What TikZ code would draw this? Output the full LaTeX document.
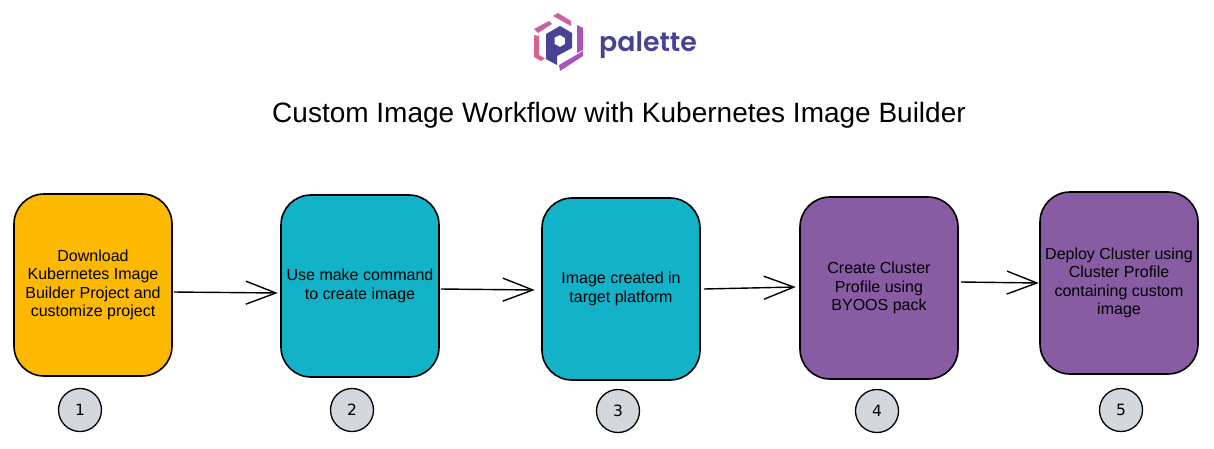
\documentclass[tikz,border=0pt]{standalone}
\usepackage{fontspec}
\setmainfont{Liberation Sans}
\newfontfamily\logofont{Poppins SemiBold}
\newfontfamily\numfont{DejaVu Sans}
\usetikzlibrary{arrows.meta}
\definecolor{cyellow}{HTML}{FDB900}
\definecolor{cteal}{HTML}{12B2C9}
\definecolor{cpurple}{HTML}{875CA3}
\definecolor{cgrey}{HTML}{D3D7DE}
\definecolor{clogo}{HTML}{4A4295}
\definecolor{cpinka}{HTML}{CF5FA0}
\definecolor{cpinkb}{HTML}{D8628F}
\definecolor{cviola}{HTML}{A854B8}
\tikzset{
  x=1pt,y=-1pt,
  stepbox/.style={draw=black,line width=1.6pt,rounded corners=30pt,minimum width=158pt,minimum height=182pt,inner sep=1pt,align=center,font=\fontsize{16}{18.3}\selectfont},
  numdot/.style={circle,draw=black,fill=cgrey,line width=1.3pt,minimum size=43pt,inner sep=0pt,font=\numfont\fontsize{15.5}{16}\selectfont},
  flow/.style={line width=1.4pt,-{Straight Barb[length=30pt,width=23pt,line width=1.4pt]}}
}
\begin{document}
\begin{tikzpicture}
\useasboundingbox (0,0) rectangle (1214,448);
\fill[white] (0,0) rectangle (1214,448);
\fill[cpinka] (534,29) -- (549,21) -- (552,24) -- (538,33) -- cycle;
\fill[cpinka] (553,16) -- (558,13) -- (571,21) -- (571,26) -- cycle;
\fill[cpinkb] (534,35) -- (539,36) -- (539,55) -- (545,58.5) -- (541,61) -- (534,57) -- cycle;
\fill[cviola] (577,25) -- (583,28) -- (583,50) -- (577,53) -- cycle;
\fill[cviola] (583,51) -- (583,56) -- (560,71) -- (559,65) -- cycle;
\fill[clogo,even odd rule] (546,34) -- (560,26) -- (572,33) -- (572,48) -- (557,56) -- (557,65) -- (546,59) -- cycle
  (554.5,37.5) -- (554.5,44) -- (560,47) -- (565,44) -- (565,38) -- (560,35) -- cycle;
\node[text=clogo,anchor=base west,inner sep=0pt,font=\logofont\fontsize{26.8}{30}\selectfont] (logotext) at (599,51) {palette};
\node[font=\fontsize{28}{32}\selectfont,inner sep=0pt] (title) at (619,115.5) {Custom Image Workflow with Kubernetes Image Builder};
\node[stepbox,fill=cyellow] (s1) at (93,285) {Download\\Kubernetes Image\\Builder Project and\\ customize project};
\node[stepbox,fill=cteal] (s2) at (360,286) {Use make command\\to create image};
\node[stepbox,fill=cteal] (s3) at (621,289) {Image created in\\target platform};
\node[stepbox,fill=cpurple] (s4) at (879,288) {Create Cluster\\Profile using\\BYOOS pack};
\node[stepbox,fill=cpurple] (s5) at (1119,283) {Deploy Cluster using\\Cluster Profile\\containing custom\\image};
\draw[flow] (s1.east) ++(1,7) -- ++(104,1);
\draw[flow] (s2.east) ++(1,3) -- ++(94,1);
\draw[flow] (s3.east) ++(3,0) -- ++(92,-2);
\draw[flow] (s4.east) ++(2,-6) -- ++(78,1);
\node[numdot] (n1) at (80,410) {1};
\node[numdot] (n2) at (352,410) {2};
\node[numdot] (n3) at (618,411) {3};
\node[numdot] (n4) at (877,411) {4};
\node[numdot] (n5) at (1121,410) {5};
\end{tikzpicture}
\end{document}
